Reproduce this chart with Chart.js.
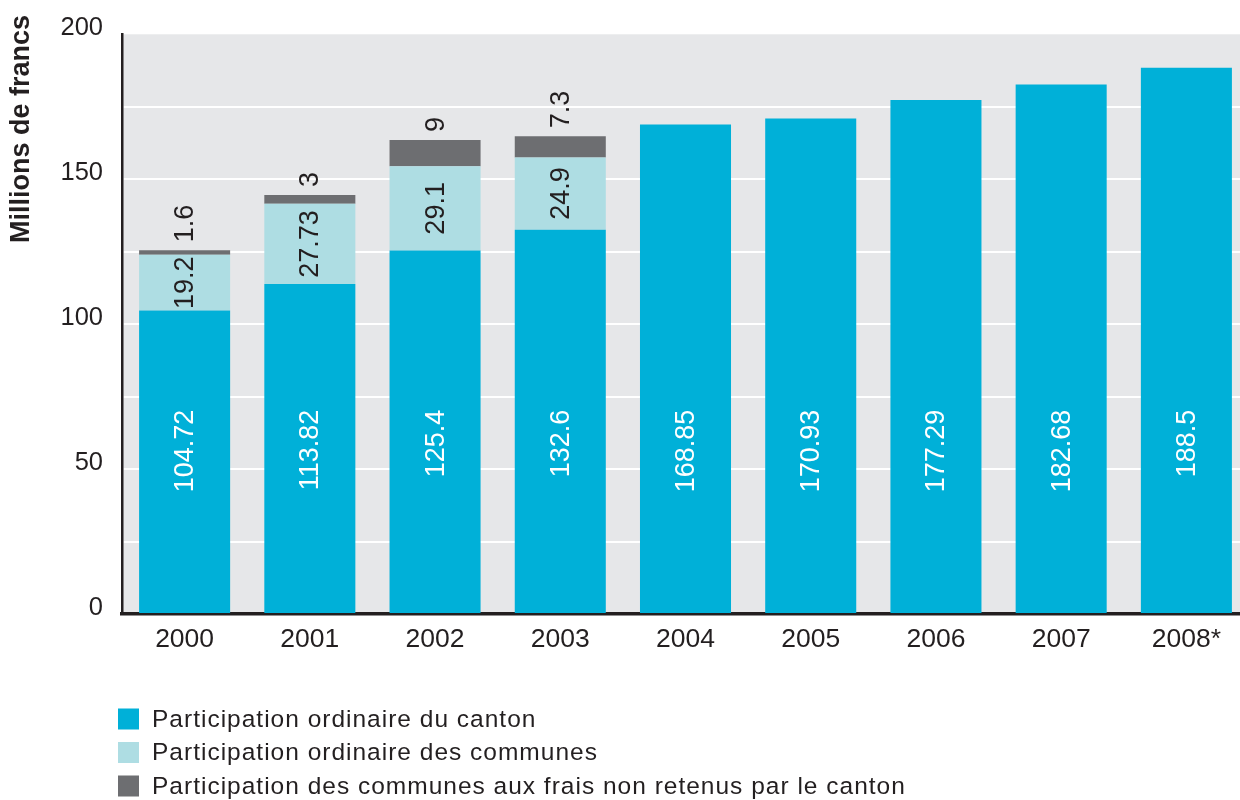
<!DOCTYPE html>
<html>
<head>
<meta charset="utf-8">
<script src="https://cdn.jsdelivr.net/npm/chart.js@4.4.1/dist/chart.umd.min.js"></script>
<style>
  html, body { margin: 0; padding: 0; width: 1240px; height: 800px; overflow: hidden; background: #ffffff; }
  canvas { display: block; }
</style>
</head>
<body>
<canvas id="chart" width="1260" height="800" style="width:1260px;height:800px"></canvas>
<script>
// Financement (millions de francs) par année
const years = ['2000', '2001', '2002', '2003', '2004', '2005', '2006', '2007', '2008*'];
const cantonValues = [104.72, 113.82, 125.4, 132.6, 168.85, 170.93, 177.29, 182.68, 188.5];
const communesValues = [19.2, 27.73, 29.1, 24.9, null, null, null, null, null];
const fraisValues = [1.6, 3, 9, 7.3, null, null, null, null, null];
const seriesLabels = [
  'Participation ordinaire du canton',
  'Participation ordinaire des communes',
  'Participation des communes aux frais non retenus par le canton'
];
const axisTitle = 'Millions de francs';
const yMin = 0;
const yMax = 200;
const yGridStep = 25;
const yLabelStep = 50;

const INK = '#231f20';
const FONT = '"Liberation Sans", Arial, Helvetica, sans-serif';
const seriesColors = ['#00b0d8', '#aedde3', '#6d6e71'];
// value on the y scale at which the canton labels end (top of the text)
const cantonLabelTop = 70.5;

// grey plotting area behind the bars
const plotBackground = {
  id: 'plotBackground',
  beforeDraw(chart) {
    const { ctx, chartArea: a } = chart;
    ctx.save();
    ctx.fillStyle = '#e6e7e9';
    ctx.fillRect(a.left, a.top, a.right - a.left, a.bottom - a.top);
    ctx.restore();
  }
};

// rotated value labels on the stacked segments
const valueLabels = {
  id: 'valueLabels',
  afterDatasetsDraw(chart) {
    const { ctx } = chart;
    const yScale = chart.scales.y;
    ctx.save();
    ctx.font = '27px ' + FONT;
    ctx.textBaseline = 'middle';
    chart.data.datasets.forEach((ds, di) => {
      const meta = chart.getDatasetMeta(di);
      meta.data.forEach((bar, i) => {
        const v = ds.data[i];
        if (v === null || v === undefined) return;
        let y, align;
        if (di === 0) {
          ctx.fillStyle = '#ffffff';
          y = yScale.getPixelForValue(cantonLabelTop);
          align = 'right';
        } else if (di === 1) {
          ctx.fillStyle = INK;
          y = (bar.y + bar.base) / 2;
          align = 'center';
        } else {
          ctx.fillStyle = INK;
          y = bar.y - 8;
          align = 'left';
        }
        ctx.save();
        ctx.translate(bar.x + 1, y);
        ctx.rotate(-Math.PI / 2);
        ctx.textAlign = align;
        ctx.fillText(String(v), 0, 0);
        ctx.restore();
      });
    });
    ctx.restore();
  }
};

// vertical axis title and the legend below the plot
const annotations = {
  id: 'annotations',
  afterDraw(chart) {
    const { ctx } = chart;
    ctx.save();
    ctx.fillStyle = INK;
    ctx.font = 'bold 27px ' + FONT;
    ctx.textBaseline = 'middle';
    ctx.translate(22, 15);
    ctx.rotate(-Math.PI / 2);
    ctx.textAlign = 'right';
    ctx.fillText(axisTitle, 0, 0);
    ctx.restore();

    ctx.save();
    ctx.font = '24.5px ' + FONT;
    if ('letterSpacing' in ctx) ctx.letterSpacing = '1px';
    ctx.textBaseline = 'middle';
    ctx.textAlign = 'left';
    chart.data.datasets.forEach((ds, i) => {
      const cy = 719 + i * 33.5;
      ctx.fillStyle = ds.backgroundColor;
      ctx.fillRect(118, cy - 10.5, 21, 21);
      ctx.fillStyle = INK;
      ctx.fillText(ds.label, 152, cy + 1);
    });
    ctx.restore();
  }
};

new Chart(document.getElementById('chart'), {
  type: 'bar',
  data: {
    labels: years,
    datasets: [
      { label: seriesLabels[0], data: cantonValues, backgroundColor: seriesColors[0] },
      { label: seriesLabels[1], data: communesValues, backgroundColor: seriesColors[1] },
      { label: seriesLabels[2], data: fraisValues, backgroundColor: seriesColors[2] }
    ]
  },
  options: {
    responsive: false,
    devicePixelRatio: 1,
    animation: false,
    layout: { padding: { top: 33, right: 11, bottom: 126, left: 0 } },
    datasets: {
      bar: { categoryPercentage: 1, barPercentage: 0.727, borderWidth: 0 }
    },
    plugins: {
      legend: { display: false },
      tooltip: { enabled: false },
      title: { display: false }
    },
    scales: {
      x: {
        stacked: true,
        z: 1,
        grid: { display: false },
        border: { display: true, color: INK, width: 3.5 },
        ticks: { color: INK, font: { family: FONT, size: 26.5 }, padding: 2, maxRotation: 0 },
        afterFit(scale) { scale.height = 60; }
      },
      y: {
        stacked: true,
        min: yMin,
        max: yMax,
        grid: {
          drawTicks: false,
          lineWidth: 2,
          color: (c) => (c.tick && (c.tick.value === yMin || c.tick.value === yMax)) ? 'rgba(0,0,0,0)' : '#ffffff'
        },
        border: { display: true, color: INK, width: 2.5 },
        ticks: {
          stepSize: yGridStep,
          autoSkip: false,
          color: INK,
          font: { family: FONT, size: 25.5 },
          padding: 19,
          labelOffset: -6,
          callback: (v) => (v % yLabelStep === 0 ? String(v) : '')
        },
        afterFit(scale) { scale.width = 122; }
      }
    }
  },
  plugins: [plotBackground, valueLabels, annotations]
});
</script>
</body>
</html>
